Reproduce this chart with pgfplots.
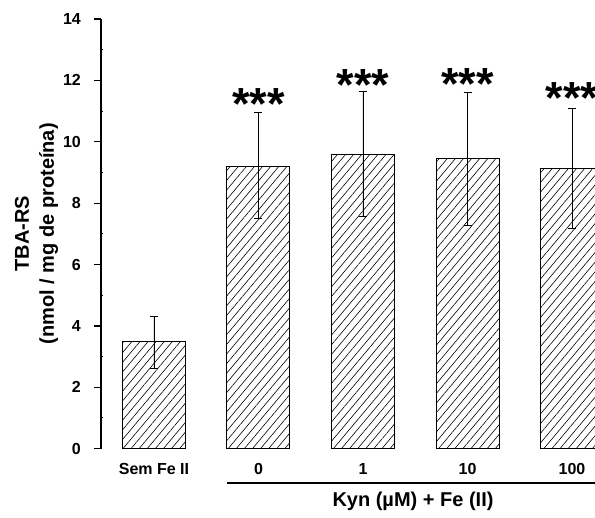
\documentclass[border=0pt]{standalone}
\usepackage{pgfplots}
\pgfplotsset{compat=1.18}
\usepackage{pgfplotstable}
\usetikzlibrary{patterns.meta}
\usepackage{fontspec}
\setmainfont{Liberation Sans}

% TBA-RS levels (mean, upper and lower error)
\pgfplotstableread{
x  y     ep    em
0  3.48  0.84  0.87
1  9.21  1.76  1.70
2  9.60  2.05  2.03
3  9.46  2.14  2.17
4  9.13  1.96  1.95
}\tbars

\begin{document}
\begin{tikzpicture}
\useasboundingbox (0,0) rectangle (595pt,518pt);
\begin{axis}[
  at={(101pt,69.3pt)}, anchor=south west,
  scale only axis,
  width=494pt, height=429.7pt,
  xmin=-0.507, xmax=4.22,
  ymin=0, ymax=14,
  clip mode=individual,
  axis x line=none,
  axis y line*=left,
  y axis line style={line width=1.2pt, -},
  ytick={0,2,...,14},
  minor y tick num=1,
  tick align=outside,
  major tick length=7pt,
  minor tick length=2pt,
  every tick/.style={black, line width=1.2pt},
  minor y tick style={xshift=2pt, line width=1pt},
  /pgf/number format/assume math mode=true,
  yticklabel style={font=\bfseries\fontsize{16}{19}\selectfont,
    anchor=east, inner sep=0pt, xshift=-13pt},
  ylabel={TBA-RS\\(nmol / mg de proteína)},
  every axis y label/.style={
    at={(axis description cs:0,0.5)}, xshift=-64.5pt,
    rotate=90, anchor=center, align=center,
    font=\bfseries\fontsize{20}{25}\selectfont},
]
\addplot[
  ybar, bar width=63pt, draw=black, line width=1pt,
  pattern={Lines[angle=50,distance=6.2pt,line width=0.6pt]},
  pattern color=black,
  error bars/.cd, y dir=both, y explicit,
  error bar style={line width=0.8pt, black, solid},
  error mark options={rotate=90, mark size=4pt, line width=0.8pt, black},
] table[x=x, y=y, y error plus=ep, y error minus=em] {\tbars};

% category labels under the bars
\foreach \xx/\lab in {0/Sem Fe II,1/0,2/1,3/10,4/100}{
  \edef\tmp{\noexpand\node[anchor=base, inner sep=0pt,
    font=\noexpand\bfseries\noexpand\fontsize{16}{19}\noexpand\selectfont]
    at (axis cs:\xx,0) [yshift=-26.3pt] {\lab};}
  \tmp
}

% significance marks
\foreach \xx/\yy in {1/11.75,2/12.37,3/12.40,4/11.94}{
  \edef\tmp{\noexpand\node[anchor=north, inner sep=0pt,
    font=\noexpand\bfseries\noexpand\fontsize{45}{50}\noexpand\selectfont]
    at (axis cs:\xx,\yy) {***};}
  \tmp
}
\end{axis}

% grouping rule and its caption
\draw[line width=1.6pt] (227pt,34.7pt) -- (600pt,34.7pt);
\node[font=\bfseries\fontsize{20}{24}\selectfont] at (413pt,16.5pt) {Kyn (µM) + Fe (II)};
\end{tikzpicture}
\end{document}
